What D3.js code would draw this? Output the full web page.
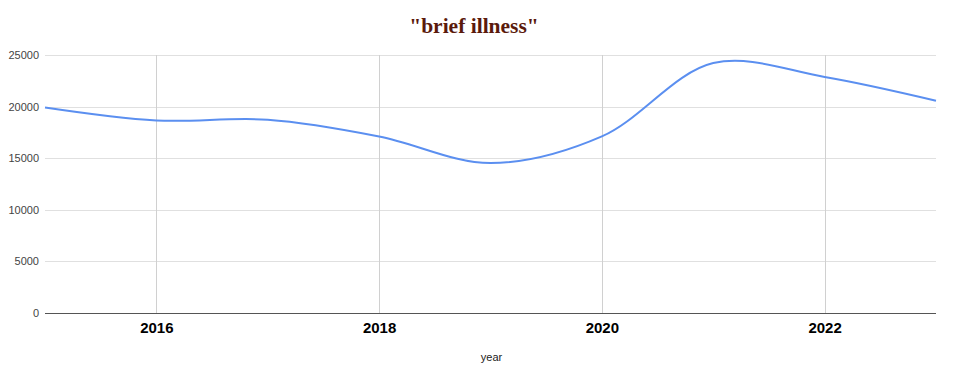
<!DOCTYPE html>
<html>
<head>
<meta charset="utf-8">
<script src="https://cdn.jsdelivr.net/npm/d3@7"></script>
<style>
  body { margin: 0; background: #fff; }
  svg { display: block; }
</style>
</head>
<body>
<div id="chart"></div>
<script>
const years = [2015, 2016, 2017, 2018, 2019, 2020, 2021, 2022, 2023];
const values = [19920, 18660, 18730, 17110, 14530, 17110, 24220, 22870, 20570];
const yTicks = [0, 5000, 10000, 15000, 20000, 25000];
const xTicks = [2016, 2018, 2020, 2022];
const title = '"brief illness"';
const xTitle = "year";

const width = 954, height = 375;
const marginTop = 55, marginRight = 18, marginBottom = 62, marginLeft = 45;

const svg = d3.select("#chart")
  .append("svg")
  .attr("width", width)
  .attr("height", height);

const x = d3.scaleLinear()
  .domain([2015, 2023])
  .range([marginLeft, width - marginRight]);

const y = d3.scaleLinear()
  .domain([0, 25000])
  .range([height - marginBottom, marginTop]);

// horizontal grid
svg.append("g")
  .selectAll("line")
  .data(yTicks.filter(d => d > 0))
  .join("line")
  .attr("x1", marginLeft)
  .attr("x2", width - marginRight)
  .attr("y1", d => Math.round(y(d)) + 0.5)
  .attr("y2", d => Math.round(y(d)) + 0.5)
  .attr("stroke", "#e0e0e0")
  .attr("stroke-width", 1);

// vertical grid
svg.append("g")
  .selectAll("line")
  .data(xTicks)
  .join("line")
  .attr("x1", d => Math.round(x(d)) + 0.5)
  .attr("x2", d => Math.round(x(d)) + 0.5)
  .attr("y1", marginTop)
  .attr("y2", height - marginBottom)
  .attr("stroke", "#d0d0d0")
  .attr("stroke-width", 1);

// y axis labels
const yAxis = svg.append("g")
  .attr("transform", `translate(${marginLeft - 6},0)`)
  .call(d3.axisLeft(y).tickValues(yTicks).tickSize(0).tickPadding(0).tickFormat(d3.format("d")));
yAxis.select(".domain").remove();
yAxis.selectAll("text")
  .style("font-family", "Arial, 'Liberation Sans', sans-serif")
  .style("font-size", "11px")
  .attr("fill", "#444");

// baseline
svg.append("line")
  .attr("x1", marginLeft)
  .attr("x2", width - marginRight)
  .attr("y1", Math.round(y(0)) + 0.5)
  .attr("y2", Math.round(y(0)) + 0.5)
  .attr("stroke", "#555")
  .attr("stroke-width", 1);

// x axis labels
const xAxis = svg.append("g")
  .attr("transform", `translate(0,${y(0)})`)
  .call(d3.axisBottom(x).tickValues(xTicks).tickSize(0).tickPadding(9).tickFormat(d3.format("d")));
xAxis.select(".domain").remove();
xAxis.selectAll("text")
  .style("font-family", "Arial, 'Liberation Sans', sans-serif")
  .style("font-size", "15px")
  .style("font-weight", "bold")
  .attr("fill", "#000");

// line
const line = d3.line()
  .x((d, i) => x(years[i]))
  .y(d => y(d))
  .curve(d3.curveCatmullRom.alpha(0.5));

svg.append("path")
  .datum(values)
  .attr("fill", "none")
  .attr("stroke", "#5b8ff0")
  .attr("stroke-width", 2)
  .attr("d", line);

// title
svg.append("text")
  .attr("x", 474)
  .attr("y", 33)
  .attr("text-anchor", "middle")
  .style("font-family", "'Liberation Serif', 'Times New Roman', serif")
  .style("font-size", "21.5px")
  .style("font-weight", "bold")
  .attr("fill", "#5a1a0c")
  .text(title);

// x title
svg.append("text")
  .attr("x", (marginLeft + width - marginRight) / 2 + 1)
  .attr("y", 361)
  .attr("text-anchor", "middle")
  .style("font-family", "Arial, 'Liberation Sans', sans-serif")
  .style("font-size", "11px")
  .attr("fill", "#222")
  .text(xTitle);
</script>
</body>
</html>
